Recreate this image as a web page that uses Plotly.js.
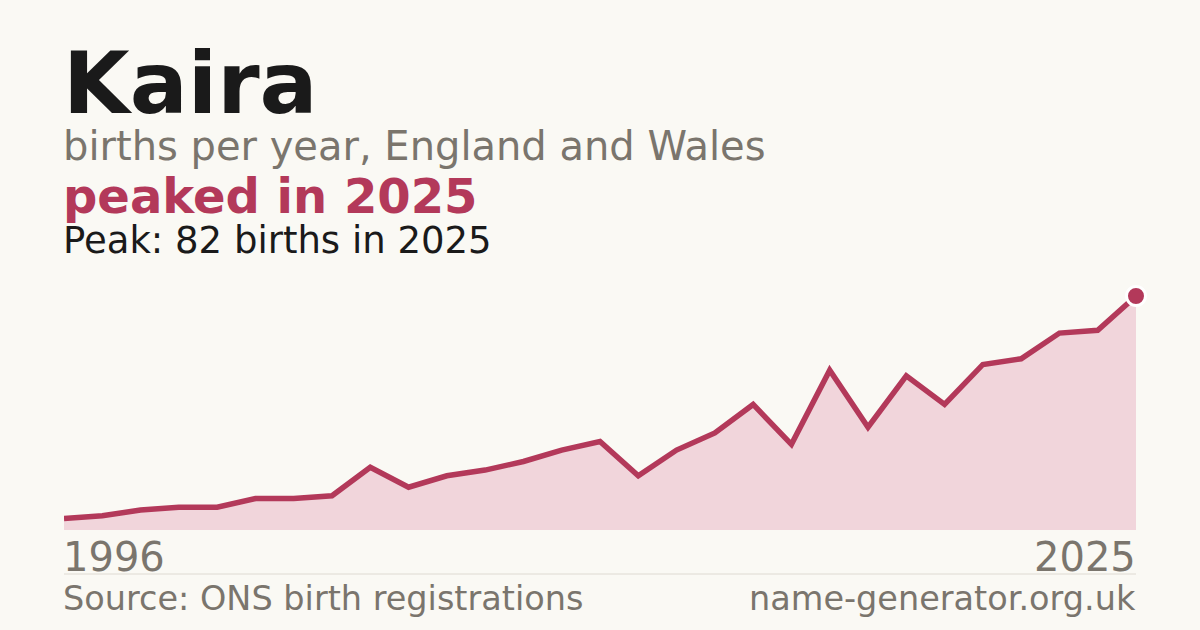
<!DOCTYPE html>
<html>
<head>
<meta charset="utf-8">
<script src="https://cdn.plot.ly/plotly-3.0.1.min.js"></script>
<style>
  html, body { margin: 0; padding: 0; background: #faf9f4; }
  #chart { width: 1200px; height: 630px; }
</style>
</head>
<body>
<div id="chart"></div>
<script>
// ---- data ----
const nameLabel = "Kaira";
const births = [4, 5, 7, 8, 8, 11, 11, 12, 22, 15, 19, 21, 24, 28, 31, 19, 28, 34, 44, 30, 56, 36, 54, 44, 58, 60, 69, 70, 82];
const yearLabels = ["1996", "2025"];
const peakYear = "2025";

// ---- derived ----
const idx = births.map((_, i) => i);
const peakVal = Math.max(...births);
const lastIdx = births.length - 1;

const W = 1200, H = 630;
const M = { l: 64, r: 64, t: 270, b: 100 };
const plotH = H - M.t - M.b;
function py(p) { return (H - M.b - p) / plotH; }

const FONT = "DejaVu Sans, sans-serif";
const ACCENT = "#b3395a";
const GREY = "#7a756d";

const traces = [
  {
    x: idx, y: births, type: "scatter", mode: "lines",
    line: { color: ACCENT, width: 5.5, shape: "linear" },
    fill: "tozeroy", fillcolor: "#f1d5db",
    hoverinfo: "skip"
  },
  {
    x: [lastIdx], y: [births[lastIdx]], type: "scatter", mode: "markers",
    marker: { color: ACCENT, size: 19, line: { color: "#ffffff", width: 3 } },
    cliponaxis: false, hoverinfo: "skip"
  }
];

const ann = (text, x, yPix, size, color, xanchor, bold) => ({
  text: bold ? "<b>" + text + "</b>" : text,
  x: x, y: py(yPix), xref: "paper", yref: "paper",
  xanchor: xanchor, yanchor: "middle", showarrow: false,
  xshift: xanchor === "left" ? -3 : 2,
  font: { family: FONT, size: size, color: color },
  align: xanchor
});

const layout = {
  width: W, height: H,
  margin: M,
  paper_bgcolor: "#faf9f4", plot_bgcolor: "#faf9f4",
  showlegend: false,
  xaxis: { range: [0, lastIdx], showgrid: false, zeroline: false, showticklabels: false, showline: false, fixedrange: true },
  yaxis: { range: [0, peakVal * 1.111], showgrid: false, zeroline: false, showticklabels: false, showline: false, fixedrange: true },
  annotations: [
    ann(nameLabel, 0, 83, 86, "#1a1a1a", "left", true),
    ann("births per year, England and Wales", 0, 146.2, 40, GREY, "left", false),
    ann("peaked in " + peakYear, 0, 196.4, 48, ACCENT, "left", true),
    ann("Peak: " + peakVal + " births in " + peakYear, 0, 240.5, 37, "#1a1a1a", "left", false),
    ann(yearLabels[0], 0, 556.5, 40, GREY, "left", false),
    ann(yearLabels[1], 1, 556.5, 40, GREY, "right", false),
    ann("Source: ONS birth registrations", 0, 598, 33.5, GREY, "left", false),
    ann("name-generator.org.uk", 1, 598, 33.5, GREY, "right", false)
  ],
  shapes: [
    { type: "line", xref: "paper", yref: "paper", x0: 0, x1: 1, y0: py(574), y1: py(574),
      line: { color: "#dedad2", width: 1 } }
  ]
};

Plotly.newPlot("chart", traces, layout, { displayModeBar: false, staticPlot: true });
</script>
</body>
</html>
